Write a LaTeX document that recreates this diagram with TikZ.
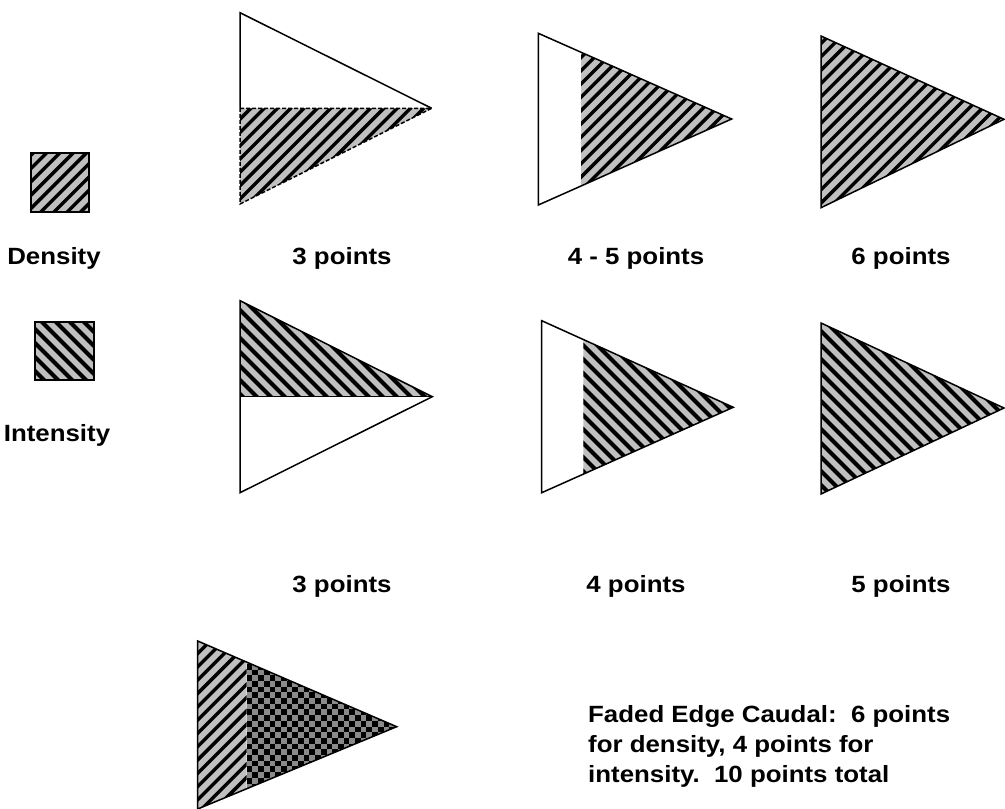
\documentclass[tikz,border=0pt]{standalone}
\usepackage{fontspec}
\setmainfont[FakeStretch=1.1]{Liberation Sans}
\definecolor{hatchgray}{HTML}{C0C0C0}
\definecolor{checkgray}{HTML}{8A8A8A}
\newcommand\hatchNE[1]{\begin{scope}\clip #1;\fill[hatchgray] (0,0) rectangle (1005,809);
  \foreach \i in {0,...,137}{\draw[hlineD] ({\i*13.3},0) -- ++(-900,900);}\end{scope}}
\newcommand\hatchNW[1]{\begin{scope}\clip #1;\fill[hatchgray] (0,0) rectangle (1005,809);
  \foreach \i in {-62,...,76}{\draw[hlineI] ({\i*14},0) -- ++(900,900);}\end{scope}}
\begin{document}
\begin{tikzpicture}[x=1pt,y=-1pt,
  hlineD/.style={line width=3.4pt,black},
  hlineI/.style={line width=4pt,black},
  outl/.style={draw=black,line width=1.5pt,line join=miter},
  dashout/.style={draw=black,line width=1.5pt,dash pattern=on 4pt off 2pt},
  lbl/.style={font=\fontsize{23.5}{30}\selectfont\bfseries,anchor=base,inner sep=0pt}]
\useasboundingbox (0,0) rectangle (1005,809);
\fill[white] (0,0) rectangle (1005,809);

% legend squares
\hatchNE{(31,153) rectangle (89,212)}
\draw[outl] (31,153) rectangle (89,212);
\hatchNW{(35,322) rectangle (94,380)}
\draw[outl] (35,322) rectangle (94,380);
\node[lbl] (ldens) at (54,264) {Density};
\node[lbl] (lint) at (57,441) {Intensity};

% row 1, triangle 1 (3 points density)
\hatchNE{(240,108.3) -- (431.7,108.3) -- (240,204) -- cycle}
\draw[outl] (240,108.3) -- (240,12.7) -- (431.7,108.3);
\draw[dashout] (240,108.3) -- (431.7,108.3) -- (240,204) -- cycle;
% row 1, triangle 2 (4-5 points)
\hatchNE{(581,52.2) -- (731.7,119) -- (581,186) -- cycle}
\draw[outl] (538.3,33.3) -- (731.7,119) -- (538.3,205) -- cycle;
% row 1, triangle 3 (6 points)
\hatchNE{(821,36) -- (1004,119.3) -- (821,207.7) -- cycle}
\draw[outl] (821,36) -- (1004,119.3) -- (821,207.7) -- cycle;

\node[lbl] (r1a) at (342,264) {3 points};
\node[lbl] (r1b) at (636,264) {4 - 5 points};
\node[lbl] (r1c) at (901,264) {6 points};

% row 2, triangle 1
\hatchNW{(240,300.7) -- (432.3,396.7) -- (240,396.7) -- cycle}
\draw[outl] (240,300.7) -- (432.3,396.7) -- (240,492.7) -- cycle;
\draw[outl] (240,396.7) -- (432.3,396.7);
% row 2, triangle 2
\hatchNW{(583.3,339.5) -- (733.3,407.3) -- (583.3,474.2) -- cycle}
\draw[outl] (541.7,320.7) -- (733.3,407.3) -- (541.7,492.7) -- cycle;
% row 2, triangle 3
\hatchNW{(821,323) -- (1004,408) -- (821,494) -- cycle}
\draw[outl] (821,323) -- (1004,408) -- (821,494) -- cycle;

\node[lbl] (r2a) at (342,592) {3 points};
\node[lbl] (r2b) at (636,592) {4 points};
\node[lbl] (r2c) at (901,592) {5 points};

% bottom triangle
\hatchNE{(197.7,641) -- (246.7,662.1) -- (246.7,788.7) -- (197.7,809) -- cycle}
\begin{scope}
  \clip (246.7,662.1) -- (396.7,726.7) -- (246.7,788.7) -- cycle;
  \fill[checkgray] (246.7,641) rectangle (400,809);
  \foreach \i in {0,...,27}{\foreach \j in {0,...,15}{
    \fill[black] ({246.7+\i*5.7},{641+(2*\j+mod(\i,2))*5.7}) rectangle ++(5.7,5.7);}}
\end{scope}
\draw[outl] (197.7,641) -- (396.7,726.7) -- (197.7,809) -- cycle;

\node[lbl,anchor=base west,align=left] (note) at (588,782)
  {Faded Edge Caudal:\ \ 6 points\\for density, 4 points for\\intensity.\ \ 10 points total};
\end{tikzpicture}
\end{document}
